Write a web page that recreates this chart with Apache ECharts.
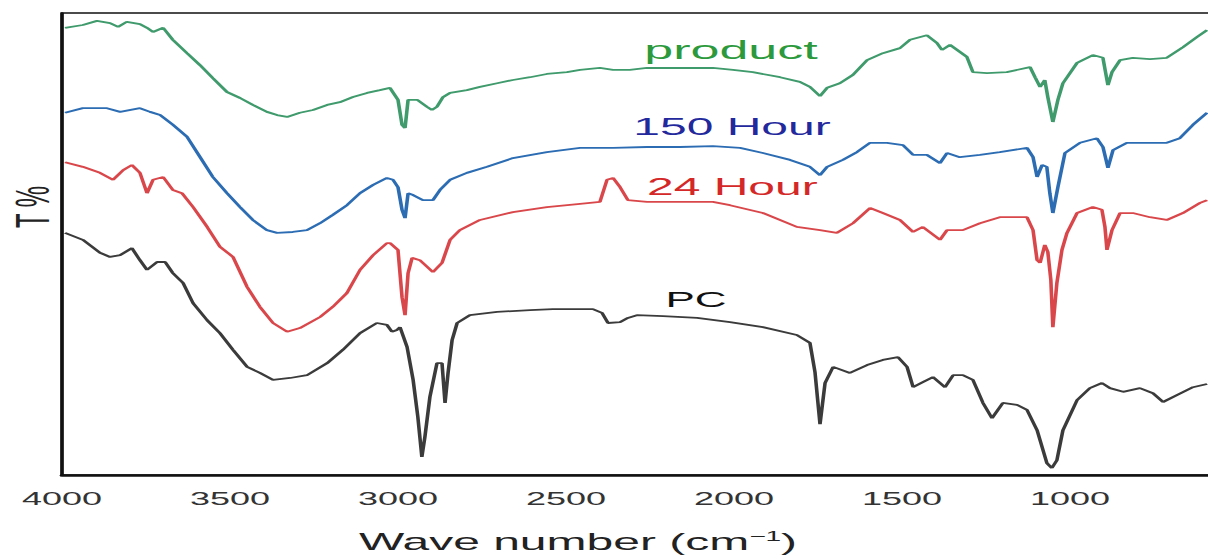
<!DOCTYPE html>
<html>
<head>
<meta charset="utf-8">
<script src="https://cdn.jsdelivr.net/npm/echarts@6/dist/echarts.min.js"></script>
<style>
  html, body { margin: 0; padding: 0; background: #fff; overflow: hidden; }
  /* the figure is drawn at half width and stretched 2x horizontally */
  #chart { width: 604px; height: 559px; transform: scale(2, 1); transform-origin: 0 0; }
</style>
</head>
<body>
<div id="chart"></div>
<script>
// FTIR transmittance spectra: [wave number (cm-1), T %]
const product = [
  [3991,96.8],[3938,97.4],[3896,98.3],[3857,97.8],[3833,97.0],[3807,98.1],[3768,97.6],[3747,96.8],[3729,95.9],[3699,96.8],
  [3670,94.2],[3628,91.3],[3589,88.7],[3551,85.9],[3509,82.9],[3470,81.6],[3432,80.1],[3390,78.6],[3360,77.9],[3330,77.5],
  [3292,78.4],[3253,79.0],[3211,80.1],[3173,80.7],[3134,81.8],[3092,82.7],[3054,83.3],[3024,83.8],[3000,81.2],[2988,75.8],
  [2979,75.1],[2970,81.2],[2943,81.2],[2914,79.7],[2899,79.0],[2884,79.7],[2866,81.8],[2845,82.7],[2795,83.3],[2756,84.0],
  [2705,84.8],[2658,85.5],[2607,86.1],[2557,86.8],[2497,87.2],[2458,87.7],[2399,88.1],[2360,87.7],[2310,87.7],[2259,88.1],
  [2161,88.1],[2063,88.1],[2003,87.7],[1944,87.2],[1863,86.1],[1804,85.1],[1774,84.0],[1744,82.0],[1723,83.8],[1685,84.8],
  [1646,86.6],[1604,89.8],[1557,91.3],[1506,92.4],[1476,94.2],[1426,95.2],[1396,93.5],[1381,92.0],[1357,93.1],[1307,90.5],
  [1289,87.2],[1247,87.0],[1188,87.2],[1119,88.3],[1104,86.1],[1089,84.0],[1075,85.5],[1066,81.8],[1051,76.4],[1036,81.2],
  [1021,84.8],[979,89.2],[932,90.9],[902,90.3],[890,85.5],[887,84.4],[875,87.2],[851,89.8],[813,90.3],[762,90.0],
  [712,90.3],[664,92.6],[622,94.8],[592,96.3]
];
const hour150 = [
  [3991,78.4],[3938,79.4],[3866,79.4],[3827,78.6],[3768,79.4],[3738,78.6],[3708,77.9],[3670,75.8],[3628,73.2],[3589,68.8],
  [3551,64.5],[3509,61.0],[3470,58.0],[3432,55.2],[3390,53.0],[3360,52.4],[3313,52.6],[3271,53.0],[3232,54.5],[3194,56.3],
  [3152,58.4],[3113,61.0],[3074,62.8],[3033,64.3],[3015,63.9],[3000,62.3],[2988,57.4],[2979,55.6],[2970,61.0],[2955,60.6],
  [2926,59.5],[2896,59.5],[2875,61.7],[2845,63.9],[2795,65.4],[2735,66.7],[2658,68.6],[2557,69.9],[2458,70.8],[2360,70.8],
  [2259,71.0],[2161,71.0],[2063,71.2],[1982,70.8],[1914,69.7],[1833,68.2],[1774,66.7],[1744,64.9],[1723,66.7],[1676,68.2],
  [1634,69.9],[1595,71.9],[1545,71.9],[1497,71.4],[1467,69.3],[1426,69.3],[1387,67.5],[1366,69.7],[1328,68.8],[1268,69.3],
  [1209,69.9],[1128,70.8],[1110,68.8],[1098,64.5],[1083,67.1],[1069,66.7],[1060,61.0],[1051,56.7],[1036,62.3],[1015,69.7],
  [970,71.9],[920,72.9],[902,71.0],[887,66.5],[872,70.3],[831,71.9],[771,71.9],[712,71.9],[673,72.9],[634,75.8],[592,78.4]
];
const hour24 = [
  [3991,67.7],[3938,66.7],[3887,65.4],[3848,63.9],[3818,66.0],[3792,67.1],[3768,65.4],[3747,61.0],[3729,63.9],[3699,64.5],
  [3670,61.7],[3643,61.0],[3610,58.0],[3568,53.7],[3530,49.4],[3491,47.2],[3449,40.7],[3411,36.4],[3372,32.9],[3330,31.0],
  [3292,31.8],[3232,34.2],[3194,36.4],[3152,39.4],[3113,44.4],[3074,47.6],[3033,50.2],[3024,50.2],[3000,48.7],[2988,38.5],
  [2979,34.6],[2970,43.7],[2958,47.0],[2935,46.5],[2896,43.9],[2869,45.9],[2845,50.9],[2816,53.0],[2756,55.2],[2658,56.9],
  [2557,58.0],[2458,58.7],[2399,59.1],[2378,63.9],[2360,64.3],[2339,62.3],[2316,59.5],[2259,59.1],[2161,59.1],[2063,59.1],
  [2012,58.4],[1914,56.7],[1813,53.7],[1744,53.0],[1694,52.4],[1646,54.5],[1595,57.8],[1557,56.7],[1506,55.2],[1467,52.6],
  [1438,53.7],[1387,50.9],[1366,53.0],[1319,53.0],[1268,54.5],[1209,55.8],[1128,55.8],[1110,53.0],[1098,46.5],[1089,45.9],
  [1075,49.8],[1066,48.3],[1057,42.2],[1051,32.0],[1039,41.6],[1024,48.7],[1009,52.4],[979,56.7],[932,58.0],[905,57.4],
  [896,53.7],[890,48.7],[875,53.0],[851,56.7],[813,56.7],[762,55.8],[712,55.2],[664,56.7],[613,58.9],[592,59.5]
];
const pc = [
  [3991,52.4],[3938,50.9],[3887,48.1],[3857,47.2],[3827,47.6],[3792,49.1],[3768,46.5],[3747,44.4],[3717,46.1],[3693,46.1],
  [3670,43.7],[3640,41.6],[3610,37.2],[3568,33.5],[3530,30.7],[3491,27.1],[3449,23.4],[3411,22.1],[3372,20.6],[3321,21.0],
  [3271,21.6],[3211,24.2],[3164,27.1],[3113,30.7],[3063,32.9],[3033,32.5],[3018,31.0],[3003,31.4],[2994,32.0],[2973,27.7],
  [2955,20.6],[2941,12.6],[2929,3.9],[2920,8.2],[2905,16.9],[2884,24.2],[2869,24.2],[2860,15.6],[2851,22.1],[2839,29.2],
  [2824,32.9],[2786,34.6],[2705,35.3],[2607,35.7],[2539,35.9],[2420,35.9],[2393,35.1],[2375,32.9],[2339,33.1],[2316,34.0],
  [2289,34.6],[2211,34.4],[2110,34.0],[2012,33.1],[1914,32.0],[1813,30.3],[1774,28.6],[1759,22.3],[1744,11.0],[1729,19.9],
  [1705,23.4],[1655,22.1],[1604,23.8],[1557,24.9],[1512,25.5],[1485,23.4],[1467,19.0],[1438,20.1],[1408,21.2],[1372,19.0],
  [1348,21.6],[1319,21.6],[1289,20.6],[1259,15.6],[1232,12.3],[1200,15.6],[1158,15.2],[1128,14.1],[1098,9.7],[1069,2.6],
  [1054,1.5],[1039,3.2],[1021,9.7],[979,16.2],[941,18.8],[905,19.9],[881,18.8],[842,18.0],[792,18.8],[753,17.7],
  [723,15.8],[682,17.3],[634,19.0],[592,19.7]
];

// curve names, where each name sits [wave number, T %], and colours
const seriesNames = ['product', '150 Hour', '24 Hour', 'PC'];
const nameSpots = [[2009, 92.0], [2006, 75.3], [2005, 62.3], [2113, 37.9]];
const lineColors = ['#3f9a6c', '#2b6cb3', '#d9474b', '#3b3b3b'];
const nameColors = ['#2c9a3c', '#23299c', '#d42828', '#111111'];
const nameSizes = [26, 24, 24, 22];
const curves = [product, hour150, hour24, pc];

const FONT = "'Liberation Sans', Arial, Helvetica, sans-serif";

const chart = echarts.init(document.getElementById('chart'), null, { renderer: 'svg' });

const series = curves.map((data, i) => ({
  name: seriesNames[i],
  type: 'line',
  data: data,
  showSymbol: false,
  symbol: 'none',
  smooth: false,
  lineStyle: { color: lineColors[i], width: 1.8 },
  z: 3 + i,
  markPoint: {
    symbol: 'circle',
    symbolSize: 1,
    itemStyle: { color: 'rgba(0,0,0,0)' },
    data: [{ coord: nameSpots[i] }],
    label: {
      show: true,
      position: 'inside',
      formatter: seriesNames[i],
      color: nameColors[i],
      fontSize: nameSizes[i],
      fontFamily: FONT
    }
  }
}));

chart.setOption({
  animation: false,
  backgroundColor: '#ffffff',
  grid: {
    left: 31, top: 13, bottom: 84, width: 588,
    outerBoundsMode: 'none',
    containLabel: false,
    show: true, borderColor: '#111', borderWidth: 1.5
  },
  xAxis: {
    type: 'value',
    inverse: true,
    min: 500,
    max: 4000,
    interval: 500,
    axisLine: { show: true, onZero: false, lineStyle: { color: '#111', width: 2.5 } },
    axisTick: { show: false },
    splitLine: { show: false },
    axisLabel: {
      showMinLabel: false, fontSize: 18, color: '#333', margin: 15, fontFamily: FONT,
      formatter: v => String(v)
    },
    name: '{a|Wave number (cm}{s|−1}{a|)}',
    nameLocation: 'middle',
    nameGap: 54,
    nameTextStyle: {
      padding: [0, 72, 0, 0],
      rich: {
        a: { fontSize: 24, color: '#222', fontFamily: FONT },
        s: { fontSize: 14, color: '#222', fontFamily: FONT, padding: [0, 0, 12, 0] }
      }
    }
  },
  yAxis: {
    type: 'value',
    min: 0,
    max: 100,
    axisLine: { show: true, onZero: false, lineStyle: { color: '#111', width: 1.7 } },
    axisTick: { show: false },
    axisLabel: { show: false },
    splitLine: { show: false }
  },
  graphic: [{
    type: 'text',
    x: 16.5,
    y: 207,
    rotation: Math.PI / 2,
    style: { text: 'T %', align: 'center', verticalAlign: 'middle', fontSize: 24, fill: '#222', fontFamily: FONT }
  }],
  series: series
});
</script>
</body>
</html>
